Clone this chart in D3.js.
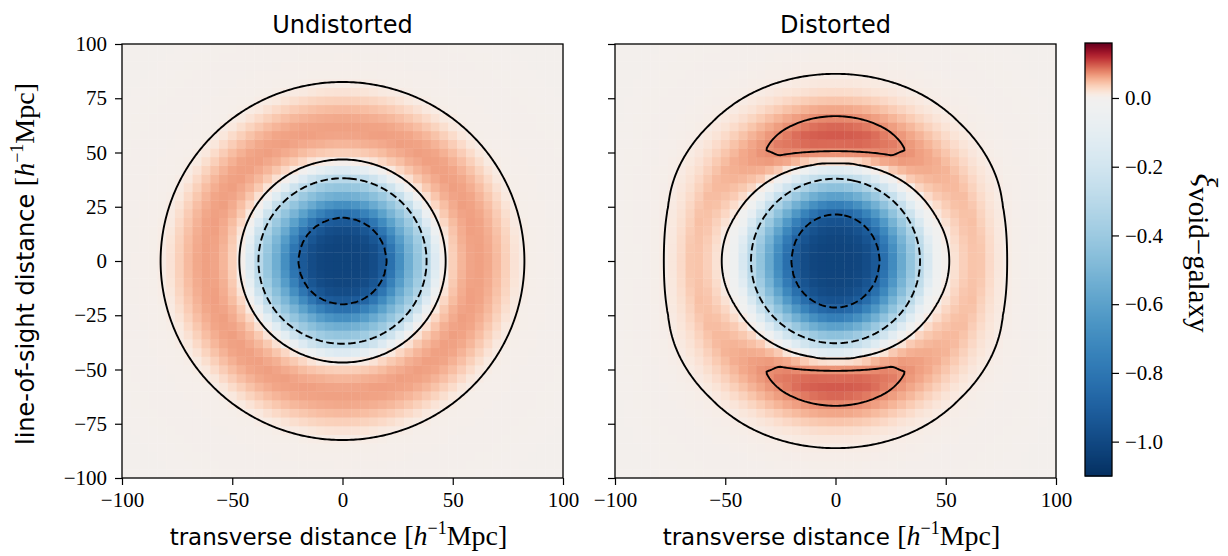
<!DOCTYPE html>
<html>
<head>
<meta charset="utf-8">
<script src="https://cdn.jsdelivr.net/npm/d3@7"></script>
<style>
    body { margin: 0; background: #ffffff; }
    .axis text { font-family: "Liberation Serif", serif; font-size: 21px; fill: #000; }
    .axis line { stroke: #000; stroke-width: 1.2; }
    .axis path { display: none; }
    .title { font-family: "DejaVu Sans", sans-serif; font-size: 24px; }
    .sans { font-family: "DejaVu Sans", sans-serif; }
    .serif { font-family: "Liberation Serif", serif; }
</style>
</head>
<body>
<script>
// radial profiles of xi(r) (r in Mpc/h)
var radii = [0, 5, 10, 15, 20, 25, 30, 35, 40, 45, 50, 55, 60, 65, 70, 75, 80, 85, 90, 100, 120, 145];
// undistorted profile
var xiUndist = [-1.02, -1.02, -1.01, -0.98, -0.9, -0.72, -0.54, -0.4, -0.24, -0.005, 0.037, 0.057, 0.066, 0.063, 0.051, 0.034, 0.014, 0.006, 0.005, 0.004, 0.003, 0.002];
// distorted profile across the line of sight (mu^2 = 0)
var xiPerp = [-1.02, -1.02, -1.01, -0.98, -0.9, -0.74, -0.56, -0.4, -0.25, -0.045, 0.002, 0.027, 0.043, 0.047, 0.029, 0.014, 0.007, 0.0045, 0.0035, 0.003, 0.002, 0.002];
// distorted profile on the diagonal (mu^2 = 0.5)
var xiDiag = [-1.02, -1.02, -1.01, -0.985, -0.92, -0.77, -0.58, -0.405, -0.235, -0.03, 0.032, 0.053, 0.06, 0.058, 0.046, 0.031, 0.018, 0.0095, 0.0065, 0.004, 0.003, 0.002];
// distorted profile along the line of sight (mu^2 = 1)
var xiLos = [-1.02, -1.02, -1.01, -0.99, -0.94, -0.8, -0.6, -0.41, -0.22, 0.01, 0.072, 0.096, 0.1, 0.082, 0.062, 0.04, 0.02, 0.011, 0.007, 0.004, 0.003, 0.002];
var muSq = [0, 0.5, 1];

// contour levels (negative ones are dashed)
var levels = [-0.9, -0.3, 0.01, 0.075];

// tick values
var xTicks = [-100, -50, 0, 50, 100];
var yTicks = [-100, -75, -50, -25, 0, 25, 50, 75, 100];
var cbTicks = [0.0, -0.2, -0.4, -0.6, -0.8, -1.0];
var cbRange = [-1.1, 0.16];

var nBins = 50; // heatmap bins per side
var w = 1228, h = 556;
var plotTop = 44, plotBottom = 478;
var panels = [
    { title: "Undistorted", left: 122, right: 563 },
    { title: "Distorted", left: 615, right: 1056 }
];

// piecewise linear profiles through the library scale
function profile(vals) {
    return d3.scaleLinear().domain(radii).range(vals).clamp(true);
}
var fUndist = profile(xiUndist);
var fDist = [profile(xiPerp), profile(xiDiag), profile(xiLos)];

panels[0].field = function (x, y) {
    return fUndist(Math.sqrt(x * x + y * y));
};
panels[1].field = function (x, y) {
    var s = Math.sqrt(x * x + y * y);
    var m = s > 0 ? (y * y) / (s * s) : 0;
    // quadratic in mu^2 through the three profiles (smooth in angle)
    var a = muSq[0], b = muSq[1], c = muSq[2];
    var l0 = (m - b) * (m - c) / ((a - b) * (a - c));
    var l1 = (m - a) * (m - c) / ((b - a) * (b - c));
    var l2 = (m - a) * (m - b) / ((c - a) * (c - b));
    return fDist[0](s) * l0 + fDist[1](s) * l1 + fDist[2](s) * l2;
};

// diverging colour: white at 0, RdBu reversed
var norm = d3.scaleLinear().domain([cbRange[0], 0, cbRange[1]]).range([1, 0.5, 0]).clamp(true);
function color(v) {
    return d3.interpolateRdBu(norm(v));
}

var svg = d3.select("body")
    .append("svg")
    .attr("width", w)
    .attr("height", h)
    .style("background", "#fff");

var fmtTick = d3.format("d");
var step = 200 / nBins;
var bins = d3.range(nBins);

panels.forEach(function (p, k) {
    var x = d3.scaleLinear().domain([-100, 100]).range([p.left, p.right]);
    var y = d3.scaleLinear().domain([-100, 100]).range([plotBottom, plotTop]);
    var g = svg.append("g").attr("class", "panel");

    // heatmap cells
    var cells = [];
    bins.forEach(function (i) {
        bins.forEach(function (j) {
            var x0 = -100 + i * step, y0 = -100 + j * step;
            cells.push({ x0: x0, y0: y0, v: p.field(x0 + step / 2, y0 + step / 2) });
        });
    });
    g.selectAll(".cell")
        .data(cells)
        .enter()
        .append("rect")
        .attr("class", "cell")
        .attr("x", function (d) { return x(d.x0); })
        .attr("y", function (d) { return y(d.y0 + step); })
        .attr("width", function (d) { return x(d.x0 + step) - x(d.x0) + 0.4; })
        .attr("height", function (d) { return y(d.y0) - y(d.y0 + step) + 0.4; })
        .style("fill", function (d) { return color(d.v); });

    // fine grid for the smooth contour lines
    var n = 201, fine = 200 / (n - 1);
    var values = new Array(n * n);
    for (var j = 0; j < n; j++) {
        for (var i = 0; i < n; i++) {
            values[i + j * n] = p.field(-100 + i * fine, -100 + j * fine);
        }
    }
    var proj = d3.geoTransform({
        point: function (gx, gy) {
            this.stream.point(x(-100 + (gx - 0.5) * fine), y(-100 + (gy - 0.5) * fine));
        }
    });
    var path = d3.geoPath(proj);

    levels.forEach(function (t) {
        // negate for negative levels so the region closes inside the frame
        var sign = t < 0 ? -1 : 1;
        var vals = values.map(function (v) { return sign * v; });
        var c = d3.contours().size([n, n]).thresholds([sign * t])(vals)[0];
        g.append("path")
            .datum(c)
            .attr("d", path)
            .style("fill", "none")
            .style("stroke", "#000")
            .style("stroke-width", 1.9)
            .style("stroke-dasharray", t < 0 ? "7.5,3.5" : null);
    });

    // frame
    g.append("rect")
        .attr("x", p.left)
        .attr("y", plotTop)
        .attr("width", p.right - p.left)
        .attr("height", plotBottom - plotTop)
        .style("fill", "none")
        .style("stroke", "#000")
        .style("stroke-width", 1.3);

    // axes
    g.append("g")
        .attr("class", "axis")
        .attr("transform", "translate(0," + plotBottom + ")")
        .call(d3.axisBottom(x).tickValues(xTicks).tickSize(7).tickPadding(7).tickFormat(fmtTick));
    g.append("g")
        .attr("class", "axis")
        .attr("transform", "translate(" + p.left + ",0)")
        .call(d3.axisLeft(y).tickValues(yTicks).tickSize(7).tickPadding(8)
            .tickFormat(k === 0 ? fmtTick : function () { return ""; }));

    // title
    g.append("text")
        .attr("class", "title")
        .attr("x", (p.left + p.right) / 2)
        .attr("y", 33)
        .attr("text-anchor", "middle")
        .text(p.title);

    // x label
    var xl = g.append("text")
        .attr("x", (p.left + p.right) / 2 - 4)
        .attr("y", 545)
        .attr("text-anchor", "middle");
    xl.append("tspan").attr("class", "sans").style("font-size", "23px").text("transverse distance ");
    xl.append("tspan").attr("class", "serif").style("font-size", "28px").text("[");
    xl.append("tspan").attr("class", "serif").style("font-size", "28px").style("font-style", "italic").text("h");
    xl.append("tspan").attr("class", "serif").style("font-size", "18px").attr("dy", -11).text("−1");
    xl.append("tspan").attr("class", "serif").style("font-size", "28px").attr("dy", 11).text("Mpc]");
});

// y label
var yl = svg.append("text")
    .attr("transform", "translate(34,264) rotate(-90)")
    .attr("text-anchor", "middle");
yl.append("tspan").attr("class", "sans").style("font-size", "24px").text("line-of-sight distance ");
yl.append("tspan").attr("class", "serif").style("font-size", "28px").text("[");
yl.append("tspan").attr("class", "serif").style("font-size", "28px").style("font-style", "italic").text("h");
yl.append("tspan").attr("class", "serif").style("font-size", "18px").attr("dy", -11).text("−1");
yl.append("tspan").attr("class", "serif").style("font-size", "28px").attr("dy", 11).text("Mpc]");

// colour bar
var cbLeft = 1085, cbWidth = 27, cbTop = 43, cbBottom = 476;
var cy = d3.scaleLinear().domain(cbRange).range([cbBottom, cbTop]);
var cbSteps = d3.range(cbBottom, cbTop, -1);
svg.append("g")
    .selectAll("rect")
    .data(cbSteps)
    .enter()
    .append("rect")
    .attr("x", cbLeft)
    .attr("y", function (d) { return d - 1; })
    .attr("width", cbWidth)
    .attr("height", 1.6)
    .style("fill", function (d) { return color(cy.invert(d - 0.5)); });
svg.append("rect")
    .attr("x", cbLeft)
    .attr("y", cbTop)
    .attr("width", cbWidth)
    .attr("height", cbBottom - cbTop)
    .style("fill", "none")
    .style("stroke", "#000")
    .style("stroke-width", 1.3);
svg.append("g")
    .attr("class", "axis")
    .attr("transform", "translate(" + (cbLeft + cbWidth) + ",0)")
    .call(d3.axisRight(cy).tickValues(cbTicks).tickSize(7).tickPadding(6).tickFormat(d3.format(".1f")));

// colour bar label
var cl = svg.append("text")
    .attr("class", "serif")
    .attr("transform", "translate(1196,253) rotate(90)")
    .attr("text-anchor", "middle");
cl.append("tspan").style("font-size", "32px").style("font-style", "italic").text("ξ");
cl.append("tspan").style("font-size", "29px").attr("dy", 7).text("void−galaxy");
</script>
</body>
</html>
